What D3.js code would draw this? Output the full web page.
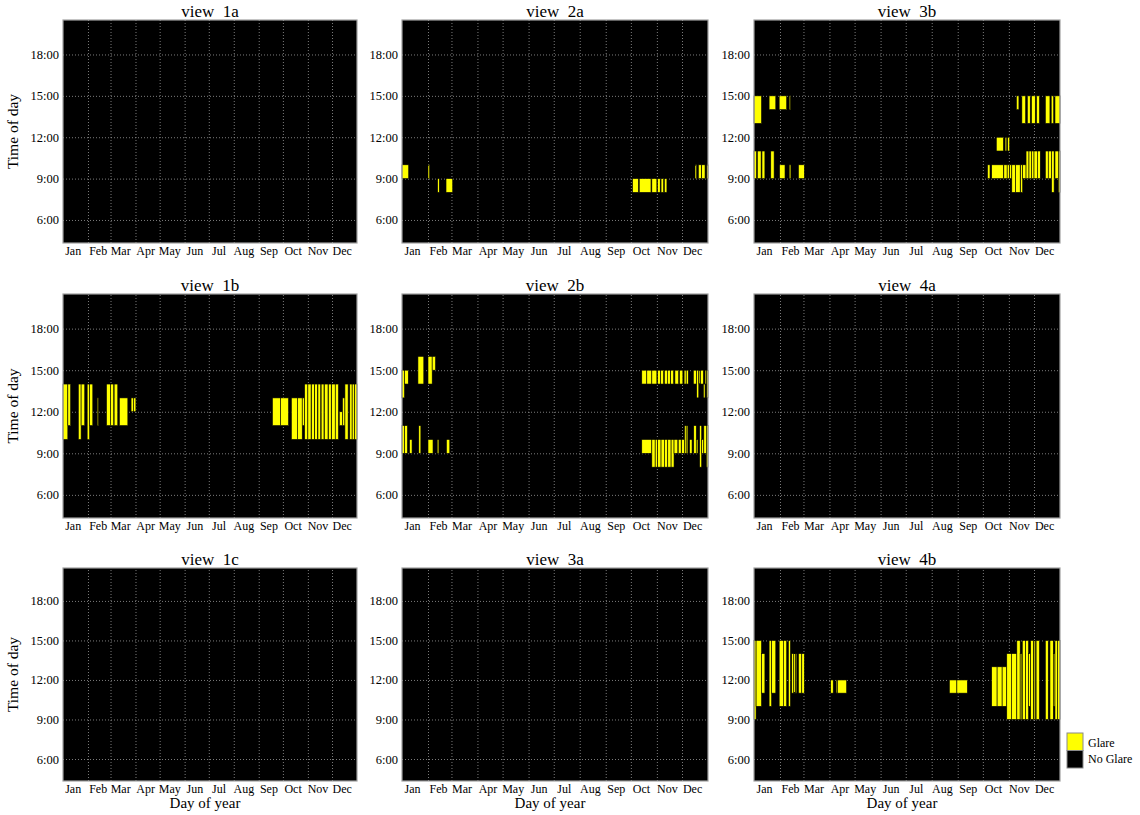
<!DOCTYPE html>
<html>
<head>
<meta charset="utf-8">
<script src="https://cdn.jsdelivr.net/npm/d3@7"></script>
<style>
  body { margin: 0; background: #fff; }
  svg { display: block; }
  text { font-family: "Liberation Serif", "Times New Roman", serif; fill: #000; }
</style>
</head>
<body>
<svg id="chart" width="1140" height="815"></svg>
<script>
// Month labels and the day-of-year each month starts on
const monthNames = ["Jan", "Feb", "Mar", "Apr", "May", "Jun", "Jul", "Aug", "Sep", "Oct", "Nov", "Dec"];
const monthStarts = [0, 31, 59, 90, 120, 151, 181, 212, 243, 273, 304, 334];
const hourTicks = [6, 9, 12, 15, 18];
const hourDomain = [4.33, 20.5];
const dayDomain = [0, 365];

// Glare periods per view: [first day, end day, from hour, to hour]
const view1a = [];
const view2a = [
  [0, 8, 9, 10], [31, 33, 9, 10], [42.5, 44.5, 8, 9], [52.5, 60.5, 8, 9],
  [275, 282, 8, 9], [283, 297, 8, 9], [298, 304, 8, 9], [305, 308, 8, 9], [309, 312, 8, 9], [313, 316, 8, 9],
  [349.5, 351.5, 9, 10], [353.5, 357, 9, 10], [357.5, 361.5, 9, 10], [363.5, 365, 9, 10]
];
const view3b = [
  [0, 9, 13, 15], [18, 26, 14, 15], [30, 39, 14, 15], [42, 43.5, 14, 15],
  [313, 316, 14, 15], [319.5, 324, 13, 15], [326, 329.5, 13, 15], [331, 335.5, 13, 15], [337, 340.5, 13, 15],
  [347.5, 353, 13, 15], [354.5, 357.5, 13, 15], [359, 365, 13, 15],
  [289, 297.5, 11, 12], [299.5, 301.5, 11, 12], [302.5, 305, 11, 12],
  [0, 3, 9, 11], [4, 8.5, 9, 11], [9.5, 13, 9, 11], [20, 24, 9, 11],
  [30.5, 37, 9, 10], [42, 44, 9, 10], [53, 60, 9, 10],
  [278.5, 281.5, 9, 10], [283.5, 297.5, 9, 10], [298, 302, 9, 10], [302, 305, 9, 10], [305, 307.5, 9, 10],
  [307.5, 312, 8, 10], [312, 317.5, 8, 10], [318, 320.5, 8, 10], [320.5, 324.5, 9, 10],
  [324.5, 328, 9, 11], [328, 331, 9, 11], [331, 334, 9, 11], [334, 338, 9, 11], [338, 341.5, 9, 11],
  [347.5, 351, 9, 11], [351, 355, 9, 11], [355, 358, 8, 11], [359, 363, 9, 11], [363, 365, 8, 11]
];
const view1b = [
  [0, 6, 10, 14], [6, 9.5, 11, 14], [19, 22.5, 10, 14], [22.5, 27, 11, 14], [30, 33, 10, 14], [33, 37, 11, 14],
  [42.5, 44, 11, 13], [54, 59, 11, 14], [59, 63, 11, 14], [63.5, 68, 11, 14], [70, 80.5, 11, 13],
  [84.5, 87.5, 12, 13], [87.5, 90.5, 12, 13],
  [260, 270, 11, 13], [270, 280, 11, 13], [283.5, 291, 10, 13], [291, 297, 10, 13], [297, 300, 11, 13],
  [300, 304, 10, 14], [304, 308, 10, 14], [308.5, 312, 10, 14], [312.5, 316, 10, 14], [316.5, 320, 10, 14],
  [320.5, 324, 10, 14], [324.5, 329, 10, 14], [329.5, 333, 10, 14], [333.5, 338, 10, 14], [338, 342, 10, 14],
  [343, 347, 11, 12], [347, 350, 11, 13], [350, 354, 10, 14], [356, 359, 10, 14], [359, 362, 10, 14], [362, 365, 10, 14]
];
const view2b = [
  [0, 3, 13, 15], [3, 7.5, 14, 15], [19, 26, 14, 16], [31, 36, 14, 16], [36, 40, 15, 16],
  [0, 3, 9, 11], [3, 6.5, 9, 11], [9, 12, 9, 10], [20, 22.5, 9, 11], [31, 37, 9, 10], [42, 44, 9, 10], [53, 57, 9, 10],
  [286, 292, 14, 15], [292, 298, 14, 15], [298, 304, 14, 15], [305, 308.5, 14, 15], [308.5, 312, 14, 15],
  [313, 316.5, 14, 15], [316.5, 320, 14, 15], [320.5, 324, 14, 15], [325.5, 330, 14, 15], [331, 335, 14, 15],
  [336.5, 339, 14, 15], [339, 341.5, 14, 15], [347.5, 351.5, 14, 15], [351.5, 354, 13, 15], [354, 355.5, 14, 15],
  [356, 359.5, 14, 15], [359.5, 361.5, 13, 14], [361.5, 363.5, 14, 15], [363.5, 365, 13, 15],
  [286, 298, 9, 10], [298, 302, 8, 10], [302, 305, 8, 10], [305, 309, 8, 10], [309, 313, 8, 10], [313, 317, 8, 10],
  [317, 321, 8, 10], [321, 324.5, 8, 10], [324.5, 329, 9, 10], [329.5, 333, 9, 10], [333.5, 337, 9, 10],
  [337, 339, 9, 11], [339, 341, 9, 11], [343, 346, 9, 10], [348, 351, 9, 11], [351, 353, 9, 10],
  [355, 357.5, 8, 11], [357.5, 360, 9, 10], [360, 363, 9, 11], [363, 365, 8, 11]
];
const view4a = [];
const view1c = [];
const view3a = [];
const view4b = [
  [0, 2.5, 9, 15], [2.5, 9, 10, 15], [9, 13, 11, 14], [18, 21, 10, 15], [21, 26, 11, 15],
  [30, 35, 10, 15], [35, 39, 10, 15], [41, 43.5, 10, 15],
  [45, 47.5, 11, 14], [47.5, 49.5, 11, 14], [49.5, 51, 11, 14], [53, 57, 11, 14], [57, 60, 11, 14],
  [91.5, 94.5, 11, 12], [98, 99.5, 11, 12], [99.5, 110.5, 11, 12],
  [233, 242, 11, 12], [242, 254.5, 11, 12],
  [283.5, 290, 10, 13], [290, 296, 10, 13], [296, 301.5, 10, 13], [301.5, 307, 9, 14], [307, 313.5, 9, 14],
  [313.5, 317.5, 9, 15], [317.5, 319.5, 9, 14], [320, 324, 9, 15], [324, 327.5, 9, 15], [327.5, 330, 10, 14],
  [330, 333.5, 9, 15], [334, 336, 9, 15], [336.5, 340.5, 9, 15],
  [347.5, 351, 9, 15], [353, 357, 9, 15], [357, 359, 10, 14], [359, 362, 9, 15], [362, 365, 9, 15]
];

const panelTitles = ["view  1a", "view  2a", "view  3b", "view  1b", "view  2b", "view  4a", "view  1c", "view  3a", "view  4b"];
const panelData = [view1a, view2a, view3b, view1b, view2b, view4a, view1c, view3a, view4b];
const legendLabels = ["Glare", "No Glare"];

// Grid of plot areas (pixel bounds for each column and row)
const columns = [[63, 357], [402, 708], [754, 1060]];
const rows = [[20, 243], [294, 518], [568, 781]];

const svg = d3.select("#chart");
const fillColor = d3.scaleOrdinal().domain(legendLabels).range(["#ffff00", "#000000"]);

panelData.forEach((periods, i) => {
  const col = i % 3, row = Math.floor(i / 3);
  const [x0, x1] = columns[col];
  const [y0, y1] = rows[row];
  const w = x1 - x0, h = y1 - y0;

  const x = d3.scaleLinear().domain(dayDomain).range([0, w]);
  const y = d3.scaleLinear().domain(hourDomain).range([h, 0]);

  const g = svg.append("g").attr("transform", `translate(${x0},${y0})`);

  g.append("rect").attr("width", w).attr("height", h).attr("fill", fillColor("No Glare"));

  // dotted grid
  g.append("g")
    .call(d3.axisLeft(y).tickValues(hourTicks).tickSize(-w).tickFormat(""))
    .call(a => a.select(".domain").remove())
    .selectAll("line").attr("stroke", "#9a9a9a").attr("stroke-dasharray", "1,2").attr("stroke-width", 0.8);
  g.append("g").attr("transform", `translate(0,${h})`)
    .call(d3.axisBottom(x).tickValues(monthStarts.slice(1)).tickSize(-h).tickFormat(""))
    .call(a => a.select(".domain").remove())
    .selectAll("line").attr("stroke", "#9a9a9a").attr("stroke-dasharray", "1,2").attr("stroke-width", 0.8);

  // glare cells
  g.append("g").selectAll("rect").data(periods).join("rect")
    .attr("x", d => x(d[0]))
    .attr("width", d => x(d[1]) - x(d[0]))
    .attr("y", d => y(d[3]))
    .attr("height", d => y(d[2]) - y(d[3]))
    .attr("fill", fillColor("Glare"))
    .attr("stroke", "#000")
    .attr("stroke-width", 0.6);

  // frame
  g.append("rect").attr("width", w).attr("height", h)
    .attr("fill", "none").attr("stroke", "#a0a0a0").attr("stroke-width", 1.2);

  // tick labels
  g.append("g")
    .call(d3.axisLeft(y).tickValues(hourTicks).tickSize(0).tickPadding(4).tickFormat(v => `${v}:00`))
    .call(a => a.select(".domain").remove())
    .selectAll("text").style("font-size", "12.5px").style("font-family", "Liberation Serif, serif");
  g.append("g").attr("transform", `translate(0,${h})`)
    .call(d3.axisBottom(x).tickValues(monthStarts.map(m => m + 12)).tickSize(0).tickPadding(3.5)
      .tickFormat((v, k) => monthNames[k]))
    .call(a => a.select(".domain").remove())
    .selectAll("text").style("font-size", "12px").style("font-family", "Liberation Serif, serif");

  g.append("text").attr("x", w / 2).attr("y", -3).attr("text-anchor", "middle")
    .style("font-size", "17px").style("white-space", "pre").attr("xml:space", "preserve")
    .text(panelTitles[i]);

  if (col === 0) {
    g.append("text").attr("transform", `translate(${-45},${h / 2}) rotate(-90)`)
      .attr("text-anchor", "middle").style("font-size", "15.5px").text("Time of day");
  }
  if (row === 2) {
    g.append("text").attr("x", w / 2 - 5).attr("y", h + 27).attr("text-anchor", "middle")
      .style("font-size", "15px").text("Day of year");
  }
});

// legend
const legend = svg.append("g").attr("transform", "translate(1067,733)");
legend.selectAll("rect").data(legendLabels).join("rect")
  .attr("x", 0).attr("y", (d, k) => k * 17.5).attr("width", 16).attr("height", 17.5)
  .attr("fill", d => fillColor(d)).attr("stroke", "#8a8a8a").attr("stroke-width", 1);
legend.selectAll("text").data(legendLabels).join("text")
  .attr("x", 21).attr("y", (d, k) => 13.5 + k * 16.5)
  .style("font-size", "12px").text(d => d);
</script>
</body>
</html>
